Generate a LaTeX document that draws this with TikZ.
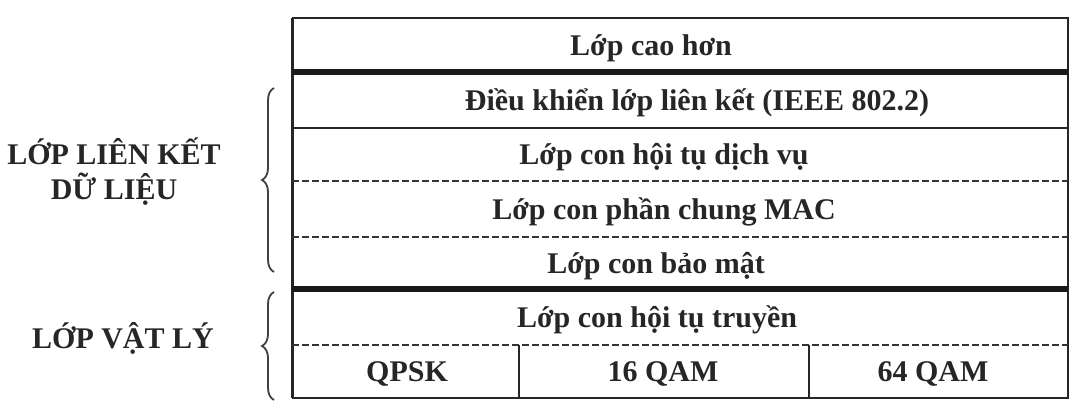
\documentclass[tikz,border=0pt]{standalone}
\usepackage{fontspec}
\setmainfont{Liberation Serif}
\usetikzlibrary{decorations.pathreplacing}
\tikzset{
  txt/.style={font=\fontsize{15}{17.5}\selectfont\bfseries, text=black!85, inner sep=0pt, anchor=base},
  border/.style={line width=1.1pt, draw=black!85},
  leftborder/.style={line width=1.5pt, draw=black!85},
  heavyrule/.style={line width=2.6pt, draw=black!90},
  lightrule/.style={line width=1pt, draw=black!85},
  dashrule/.style={line width=1pt, draw=black!80, dash pattern=on 3.5pt off 1.5pt},
  bracestyle/.style={line width=0.9pt, draw=black!75, decorate, decoration={brace, amplitude=6pt}}
}
\begin{document}
\begin{tikzpicture}[x=0.5pt,y=-0.5pt]
\useasboundingbox (0,0) rectangle (1080,412);
% table corners
\coordinate (tl) at (292,18);
\coordinate (tr) at (1068,18);
\coordinate (bl) at (292,398);
\coordinate (br) at (1068,398);
% row boundaries
\coordinate (r1l) at (292,72);  \coordinate (r1r) at (1068,72);
\coordinate (r2l) at (292,128); \coordinate (r2r) at (1068,128);
\coordinate (r3l) at (292,181); \coordinate (r3r) at (1068,181);
\coordinate (r4l) at (292,237); \coordinate (r4r) at (1068,237);
\coordinate (r5l) at (292,289); \coordinate (r5r) at (1068,289);
\coordinate (r6l) at (292,345); \coordinate (r6r) at (1068,345);
\coordinate (v1t) at (519,345); \coordinate (v1b) at (519,398);
\coordinate (v2t) at (809,345); \coordinate (v2b) at (809,398);

\draw[border] (tl) -- (tr) -- (br) -- (bl);
\draw[leftborder] (bl) -- (tl);
\draw[heavyrule] (r1l) -- (r1r);
\draw[lightrule] (r2l) -- (r2r);
\draw[dashrule] (r3l) -- (r3r);
\draw[dashrule] (r4l) -- (r4r);
\draw[heavyrule] (r5l) -- (r5r);
\draw[dashrule] (r6l) -- (r6r);
\draw[lightrule] (v1t) -- (v1b);
\draw[lightrule] (v2t) -- (v2b);

\node[txt] (upper) at (651,55) {Lớp cao hơn};
\node[txt] (llc) at (697,110) {Điều khiển lớp liên kết (IEEE 802.2)};
\node[txt] (cs) at (664,164.5) {Lớp con hội tụ dịch vụ};
\node[txt] (cps) at (664,219) {Lớp con phần chung MAC};
\node[txt] (sec) at (656,273) {Lớp con bảo mật};
\node[txt] (tc) at (657,327) {Lớp con hội tụ truyền};
\node[txt] (qpsk) at (407,381.5) {QPSK};
\node[txt] (q16) at (663,381.5) {16 QAM};
\node[txt] (q64) at (933,381.5) {64 QAM};

\node[txt] (dlla) at (114,164) {LỚP LIÊN KẾT};
\node[txt] (dllb) at (114,199) {DỮ LIỆU};
\node[txt] (phy) at (123,348) {LỚP VẬT LÝ};

\coordinate (b1b) at (274,272);
\coordinate (b1t) at (274,88);
\coordinate (b2b) at (274,400);
\coordinate (b2t) at (274,292);
\draw[bracestyle] (b1b) -- (b1t);
\draw[bracestyle] (b2b) -- (b2t);
\end{tikzpicture}
\end{document}
